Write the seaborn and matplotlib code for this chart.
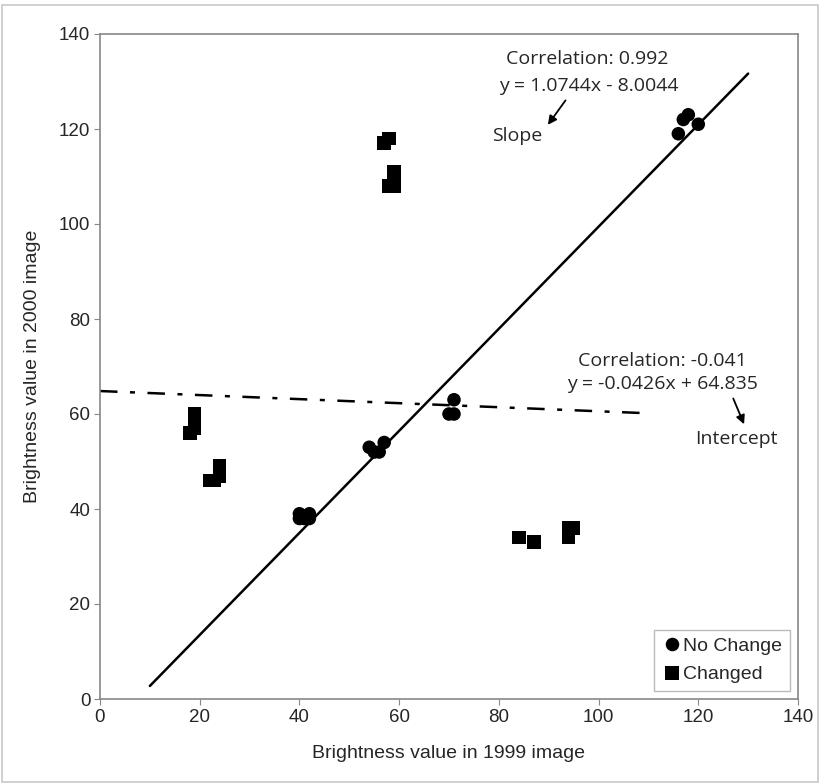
import matplotlib
matplotlib.use("Agg")
import matplotlib.pyplot as plt
import seaborn as sns
import numpy as np
import pandas as pd
from matplotlib.patches import Rectangle

# Data
nochange_x = [40, 40, 41, 42, 42, 54, 55, 56, 57, 70, 71, 71, 116, 117, 118, 120]
nochange_y = [38, 39, 38, 38, 39, 53, 52, 52, 54, 60, 60, 63, 119, 122, 123, 121]
changed_x = [57, 58, 59, 58, 59, 18, 19, 19, 22, 23, 24, 24, 84, 87, 94, 94, 95]
changed_y = [117, 118, 111, 108, 108, 56, 57, 60, 46, 46, 47, 49, 34, 33, 34, 36, 36]

fit_nc = (1.0744, -8.0044)
fit_nc_range = [10, 130]
fit_all = (-0.0426, 64.835)
fit_all_range = [0, 110]

x_ticks = [0, 20, 40, 60, 80, 100, 120, 140]
y_ticks = [0, 20, 40, 60, 80, 100, 120, 140]

df = pd.DataFrame({
    "x": nochange_x + changed_x,
    "y": nochange_y + changed_y,
    "group": ["No Change"] * len(nochange_x) + ["Changed"] * len(changed_x),
})

sns.set_style("ticks")
plt.rcParams["font.family"] = ["Liberation Sans", "DejaVu Sans"]

fig = plt.figure(figsize=(8.2, 7.84), dpi=100)
ax = fig.add_axes([100 / 820, 1 - 699 / 784, 698 / 820, 665 / 784])

fig.patches.append(Rectangle((0.003, 0.003), 0.994, 0.991, transform=fig.transFigure,
                             fill=False, edgecolor="#c8c8c8", linewidth=1.2))

sns.scatterplot(data=df, x="x", y="y", style="group", markers={"No Change": "o", "Changed": "s"},
                color="black", s=95, edgecolor="black", linewidth=0, ax=ax, legend=True)

xs = np.array(fit_nc_range, dtype=float)
ax.plot(xs, fit_nc[0] * xs + fit_nc[1], color="black", lw=1.8, zorder=1)
xs2 = np.array(fit_all_range, dtype=float)
ax.plot(xs2, fit_all[0] * xs2 + fit_all[1], color="black", lw=1.8, zorder=1,
        dashes=(7, 5, 2, 5))

ax.set_xlim(0, 140)
ax.set_ylim(0, 140)
ax.set_xticks(x_ticks)
ax.set_yticks(y_ticks)
ax.tick_params(labelsize=13.5, length=4, color="#888888", direction="out", pad=3)
for sp in ax.spines.values():
    sp.set_visible(True)
    sp.set_color("#888888")
    sp.set_linewidth(1.2)

ax.set_xlabel("Brightness value in 1999 image", fontsize=14, labelpad=14)
ax.set_ylabel("Brightness value in 2000 image", fontsize=14, labelpad=13)

afont = ["Open Sans", "DejaVu Sans"]
fs = 14
ax.text(97.7, 134.7, "Correlation: 0.992", fontsize=fs, family=afont, ha="center", va="center")
ax.text(98.0, 129.0, "y = 1.0744x - 8.0044", fontsize=fs, family=afont, ha="center", va="center")
ax.text(88.8, 118.5, "Slope", fontsize=fs, family=afont, ha="right", va="center")
ax.annotate("", xy=(89.5, 120.4), xytext=(93.7, 126.5),
            arrowprops=dict(arrowstyle="-|>", color="black", lw=1.3, mutation_scale=13))
ax.text(112.8, 71.2, "Correlation: -0.041", fontsize=fs, family=afont, ha="center", va="center")
ax.text(112.9, 66.3, "y = -0.0426x + 64.835", fontsize=fs, family=afont, ha="center", va="center")
ax.text(127.6, 54.7, "Intercept", fontsize=fs, family=afont, ha="center", va="center")
ax.annotate("", xy=(129.4, 57.3), xytext=(126.8, 63.8),
            arrowprops=dict(arrowstyle="-|>", color="black", lw=1.3, mutation_scale=13))

leg = ax.legend(loc="lower right", fontsize=14, frameon=True, fancybox=False,
                handletextpad=0.1, borderpad=0.4, labelspacing=0.55, handlelength=1.0,
                borderaxespad=0.4)
leg.get_frame().set_edgecolor("#aaaaaa")
leg.get_frame().set_linewidth(1.0)
for h in leg.legend_handles:
    if hasattr(h, "set_sizes"):
        h.set_sizes([80])

fig.savefig("out.png", dpi=100)
